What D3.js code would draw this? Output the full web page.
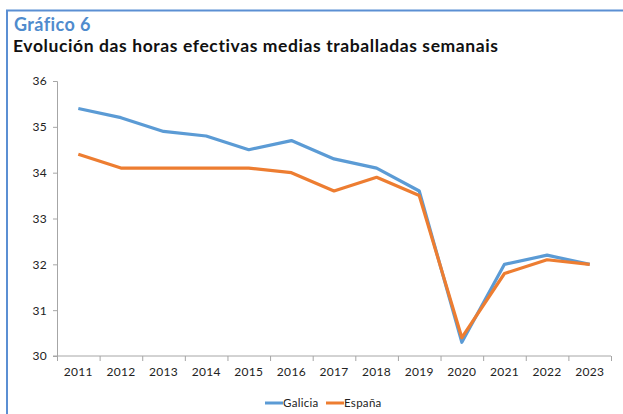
<!DOCTYPE html>
<html>
<head>
<meta charset="utf-8">
<script src="https://cdn.jsdelivr.net/npm/d3@7"></script>
<style>
  body { margin: 0; background: #fff; }
  svg text { font-family: Lato, "Open Sans", sans-serif; }
</style>
</head>
<body>
<div id="chart"></div>
<script>
const years = ['2011', '2012', '2013', '2014', '2015', '2016', '2017', '2018', '2019', '2020', '2021', '2022', '2023'];
const galicia = [35.4, 35.2, 34.9, 34.8, 34.5, 34.7, 34.3, 34.1, 33.6, 30.3, 32.0, 32.2, 32.0];
const espana = [34.4, 34.1, 34.1, 34.1, 34.1, 34.0, 33.6, 33.9, 33.5, 30.4, 31.8, 32.1, 32.0];
const yTicks = [30, 31, 32, 33, 34, 35, 36];
const seriesNames = ['Galicia', 'España'];
const colors = ['#5b9bd5', '#ed7d31'];

const W = 623, H = 414;
const margin = { top: 81, right: 12, bottom: 58, left: 57 };
const width = W - margin.left - margin.right,
    height = H - margin.top - margin.bottom;

const svg = d3.select('#chart').append('svg')
    .attr('width', W)
    .attr('height', H);

// frame
svg.append('path')
    .attr('d', `M7,${H + 5}V10.5H${W + 5}`)
    .attr('fill', 'none')
    .attr('stroke', '#5b8fd3')
    .attr('stroke-width', 2);

// titles
svg.append('text')
    .attr('x', 14).attr('y', 31)
    .attr('fill', '#4f8bcd')
    .style('font-size', '18px').style('font-weight', 700)
    .style('letter-spacing', '0.4px')
    .text('Gráfico 6');
svg.append('text')
    .attr('x', 13).attr('y', 52)
    .attr('fill', '#111')
    .style('font-size', '17.5px').style('font-weight', 700)
    .style('letter-spacing', '0.6px')
    .text('Evolución das horas efectivas medias traballadas semanais');

const g = svg.append('g')
    .attr('transform', `translate(${margin.left},${margin.top})`);

const x = d3.scaleBand().domain(years).range([0, width]);
const y = d3.scaleLinear().domain([30, 36]).range([height, 0]);

// y axis
const yAxis = g.append('g')
    .call(d3.axisLeft(y).tickValues(yTicks).tickSize(4).tickPadding(6).tickFormat(d3.format('d')));
yAxis.selectAll('text').style('font-size', '12px').style('letter-spacing', '0.3px').attr('fill', '#222');
yAxis.select('.domain').attr('stroke', '#a6a6a6').attr('d', `M-4,0.5H0.5V${height}`);
yAxis.selectAll('.tick line').attr('stroke', '#a6a6a6');

// x axis: ticks between categories
const xAxis = g.append('g')
    .attr('transform', `translate(0,${height})`);
xAxis.append('line')
    .attr('x1', -4).attr('x2', width)
    .attr('stroke', '#a6a6a6');
xAxis.selectAll('.xtick')
    .data(years.concat(['end']))
    .join('line')
    .attr('class', 'xtick')
    .attr('x1', (d, i) => i * x.bandwidth() + 0.5)
    .attr('x2', (d, i) => i * x.bandwidth() + 0.5)
    .attr('y1', 0).attr('y2', 5)
    .attr('stroke', '#a6a6a6');
xAxis.selectAll('.xlabel')
    .data(years)
    .join('text')
    .attr('class', 'xlabel')
    .attr('x', d => x(d) + x.bandwidth() / 2)
    .attr('y', 20)
    .attr('text-anchor', 'middle')
    .attr('fill', '#222')
    .style('font-size', '12px')
    .style('letter-spacing', '0.3px')
    .text(d => d);

// lines
const line = d3.line()
    .x((d, i) => x(years[i]) + x.bandwidth() / 2)
    .y(d => y(d));

[galicia, espana].forEach((s, k) => {
    g.append('path')
        .datum(s)
        .attr('fill', 'none')
        .attr('stroke', colors[k])
        .attr('stroke-width', 3.2)
        .attr('stroke-linejoin', 'round')
        .attr('d', line);
});

// legend
const legendX = [265, 326];
const legend = svg.append('g').attr('transform', 'translate(0,403)');
seriesNames.forEach((name, k) => {
    legend.append('line')
        .attr('x1', legendX[k]).attr('x2', legendX[k] + 18)
        .attr('stroke', colors[k]).attr('stroke-width', 3);
    legend.append('text')
        .attr('x', legendX[k] + 18).attr('y', 4)
        .attr('fill', '#222')
        .style('font-size', '11.5px')
        .style('letter-spacing', '0.3px')
        .text(name);
});
</script>
</body>
</html>
